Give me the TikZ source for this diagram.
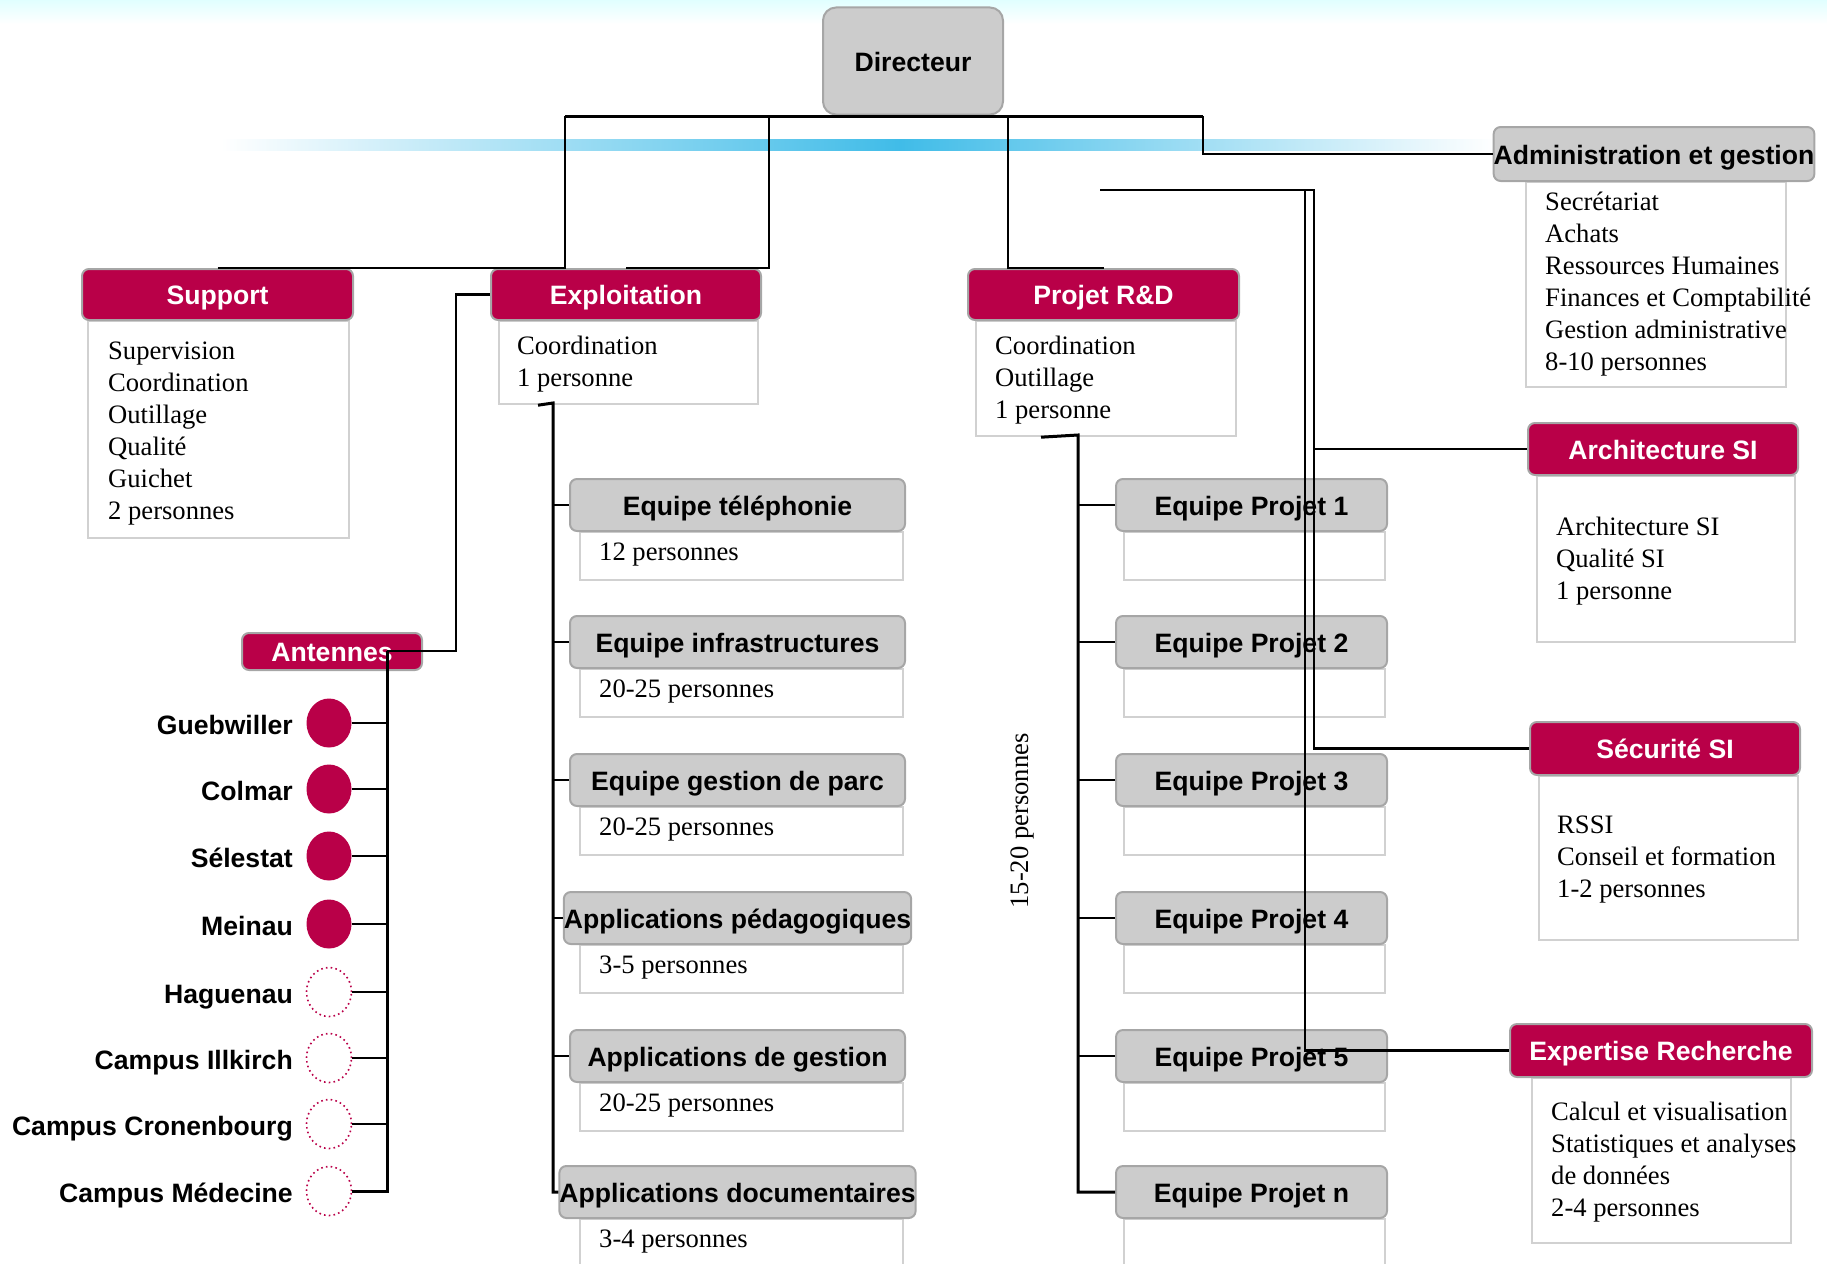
\documentclass[tikz,border=0pt]{standalone}
\usepackage{fontspec}
\setmainfont{Liberation Serif}
\setsansfont{Liberation Sans}
\usetikzlibrary{shapes.geometric}

\definecolor{crimson}{RGB}{185,0,72}
\definecolor{skybar}{RGB}{64,188,232}
\newcommand{\headfont}{\sffamily\bfseries\fontsize{26.6}{30}\selectfont}
\newcommand{\bodyfont}{\rmfamily\fontsize{26.6}{32}\selectfont}

\tikzset{
  redhead/.style={draw=black!35, line width=2, fill=crimson, rounded corners=7,
    text=white, font=\headfont, inner sep=0, text height=20, text depth=0},
  grayhead/.style={draw=black!35, line width=2, fill=black!20, rounded corners=7,
    font=\headfont, inner sep=0, text height=20, text depth=0},
  bodybox/.style={draw=black!18, line width=2.2, fill=white, inner sep=0, anchor=north west},
  bodytext/.style={anchor=base west, align=left, font=\bodyfont, inner sep=0},
  townname/.style={anchor=east, font=\headfont, inner sep=0, text height=22, text depth=0},
  link/.style={line width=2.2},
  trunk/.style={line width=3},
  town/.style={ellipse, minimum width=45, minimum height=49, inner sep=0},
}

\begin{document}
\begin{tikzpicture}[x=1pt,y=-1pt]
  \useasboundingbox (0,0) rectangle (1827,1263);
  % bandeaux
  \shade[top color=cyan!12, bottom color=white] (0,0) rectangle (1827,24);
  \shade[left color=white, right color=skybar] (221,139) rectangle (900,150);
  \shade[left color=skybar, right color=white] (900,139) rectangle (1495,150);

  \node[grayhead, rounded corners=13, minimum width=180, minimum height=107] (dir) at (913,61) {Directeur};

  % boites principales (texte cale sur la derniere ligne)
  \node[bodybox, minimum width=261, minimum height=217] (supb) at (87,320) {};
  \node[redhead, minimum width=271, minimum height=51] (sup) at (217.5,294.5) {Support};
  \node[bodytext] (supt) at (108,519) {Supervision\\Coordination\\Outillage\\Qualité\\Guichet\\2 personnes};

  \node[bodybox, minimum width=259, minimum height=83] (expb) at (498,320) {};
  \node[redhead, minimum width=270, minimum height=51] (exp) at (626,294.5) {Exploitation};
  \node[bodytext] (expt) at (517,386) {Coordination\\1 personne};

  \node[bodybox, minimum width=260, minimum height=115] (prjb) at (975,320) {};
  \node[redhead, minimum width=271, minimum height=51] (prj) at (1103.5,294.5) {Projet R\&D};
  \node[bodytext] (prjt) at (995,418) {Coordination\\Outillage\\1 personne};

  \node[bodybox, minimum width=260, minimum height=205] (admb) at (1525,181) {};
  \node[grayhead, minimum width=320, minimum height=54] (adm) at (1654,154) {Administration et gestion};
  \node[bodytext] (admt) at (1545,370) {Secrétariat\\Achats\\Ressources Humaines\\Finances et Comptabilité\\Gestion administrative\\8-10 personnes};

  \node[bodybox, minimum width=258, minimum height=166] (arcb) at (1536,475) {};
  \node[redhead, minimum width=270, minimum height=52] (arc) at (1663,449) {Architecture SI};
  \node[bodytext] (arct) at (1556,599) {Architecture SI\\Qualité SI\\1 personne};

  \node[bodybox, minimum width=259, minimum height=164] (secb) at (1538,775) {};
  \node[redhead, minimum width=270, minimum height=53] (sec) at (1665,748.5) {Sécurité SI};
  \node[bodytext] (sect) at (1557,897) {RSSI\\Conseil et formation\\1-2 personnes};

  \node[bodybox, minimum width=259, minimum height=165] (xprb) at (1531,1077) {};
  \node[redhead, minimum width=302, minimum height=53] (xpr) at (1661,1050.5) {Expertise Recherche};
  \node[bodytext] (xprt) at (1551,1216) {Calcul et visualisation\\Statistiques et analyses\\de données\\2-4 personnes};

  \node[redhead, minimum width=180, minimum height=37] (ant) at (332,651.5) {Antennes};

  % antennes
  \foreach \name/\y [count=\i] in {Guebwiller/723, Colmar/789, Sélestat/856, Meinau/924}
  {
    \node[town, fill=crimson] (c\i) at (329,\y) {};
    \node[townname] (l\i) at (293,\y) {\name};
  }
  \foreach \name/\y [count=\i from 5] in {Haguenau/992, Campus Illkirch/1058, Campus Cronenbourg/1124, Campus Médecine/1191}
  {
    \node[town, draw=crimson, line width=1.6, dash pattern=on 1.6pt off 3.2pt] (c\i) at (329,\y) {};
    \node[townname] (l\i) at (293,\y) {\name};
  }

  % equipes exploitation
  \foreach \t/\n/\y [count=\i] in {Equipe téléphonie/12 personnes/505,
      Equipe infrastructures/20-25 personnes/642, Equipe gestion de parc/20-25 personnes/780,
      Applications pédagogiques/3-5 personnes/918, Applications de gestion/20-25 personnes/1056,
      Applications documentaires/3-4 personnes/1192}
  {
    \node[bodybox, minimum width=323, minimum height=48] (eb\i) at (579,\y+26) {};
    \node[grayhead, minimum width=335, minimum height=52] (e\i) at (737.5,\y) {\t};
    \node[bodytext] (et\i) at (599,\y+55) {\n};
  }

  % equipes projet
  \foreach \n/\y [count=\i] in {1/505, 2/642, 3/780, 4/918, 5/1056, n/1192}
  {
    \node[bodybox, minimum width=261, minimum height=48] (pb\i) at (1123,\y+26) {};
    \node[grayhead, minimum width=271, minimum height=52] (p\i) at (1251.5,\y) {Equipe Projet \n};
  }
  \node[rotate=90, font=\bodyfont, inner sep=0] (prjn) at (1022,821) {15-20 personnes};

  % liaisons
  \coordinate (bus1) at (565,116);
  \coordinate (bus2) at (769,116);
  \coordinate (bus3) at (1008,116);
  \coordinate (bus4) at (1203,116);
  \draw[trunk] (bus1) -- (bus4);
  \draw[link] (sup.north) -| (bus1);
  \draw[link] (exp.north) -| (bus2);
  \draw[link] (prj.north) -| (bus3);
  \draw[link] (adm.west) -| (bus4);

  \coordinate (antj) at (387,651);
  \draw[link] (antj) -- ++(69,0) |- (exp.west);
  \draw[trunk] (antj) -- (antj |- c8.east) -- (c8.east);
  \foreach \i in {1,...,7}
    \draw[link] (c\i.east) -- (c\i.east -| antj);

  \coordinate (exptrunk) at (553,403);
  \draw[trunk] ([xshift=40pt]expb.south west) -- (exptrunk) |- (e6.west);
  \foreach \i in {1,...,5}
    \draw[link] (e\i.west) -- (e\i.west -| exptrunk);

  \coordinate (prjtrunk) at (1078,435);
  \draw[trunk] ([xshift=66pt]prjb.south west) -- (prjtrunk) |- (p6.west);
  \foreach \i in {1,...,5}
    \draw[link] (p\i.west) -- (p\i.west -| prjtrunk);

  \coordinate (rfree) at (1100,190);
  \coordinate (rj) at (1314,190);
  \coordinate (rk) at (1305,190);
  \draw[link] (rfree) -- (rj) |- (sec.west);
  \draw[link] (rj |- arc.west) -- (arc.west);
  \draw[link] (rk) |- (xpr.west);
\end{tikzpicture}
\end{document}
